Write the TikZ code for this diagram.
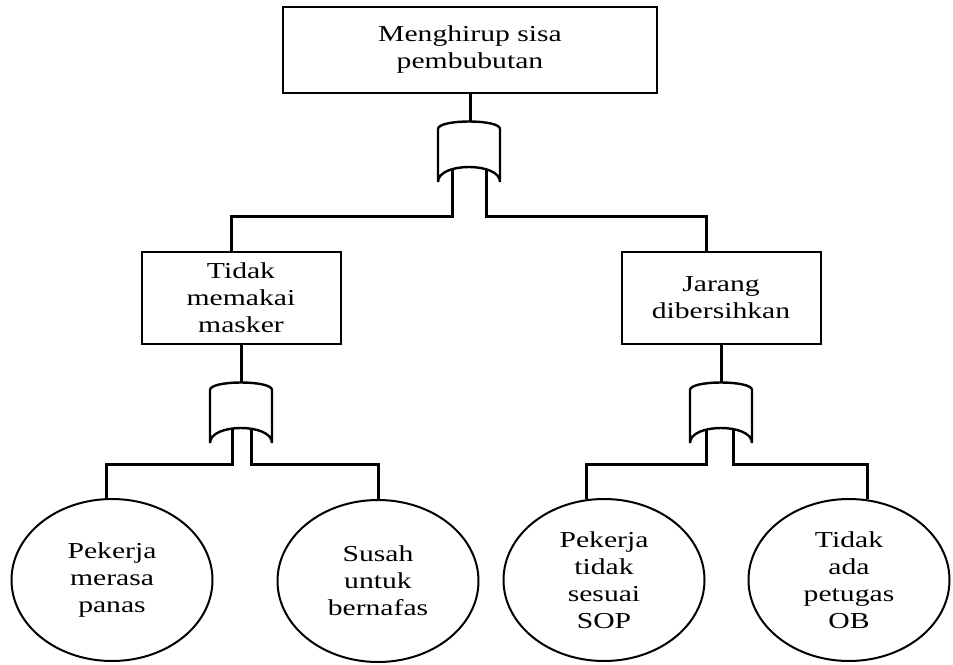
\documentclass[tikz,border=0pt]{standalone}
\usepackage{fontspec}
\setmainfont{Liberation Serif}[FakeStretch=1.3]
\usetikzlibrary{shapes.geometric}

\newcommand{\gatebody}[1]{%
  \begin{scope}[shift={(#1)}]
    \filldraw[gate] (-31,7) .. controls (-31,-3) and (31,-3) .. (31,7) -- (31,60)
      .. controls (31,40) and (-31,40) .. (-31,60) -- cycle;
  \end{scope}}

\begin{document}
\begin{tikzpicture}[x=0.5pt,y=-0.5pt,
    box/.style={draw,line width=1pt,minimum width=99.5pt,minimum height=46pt,
      align=center,inner sep=0pt,font=\fontsize{11.4}{13.5}\selectfont},
    leaf/.style={ellipse,draw,line width=1pt,minimum width=100.5pt,minimum height=81pt,
      align=center,inner sep=0pt,font=\fontsize{11.4}{13.5}\selectfont},
    link/.style={line width=1.5pt},
    gate/.style={fill=white,line width=1.2pt}]
    \useasboundingbox (0,0) rectangle (953,664);
    \node[box,minimum width=187pt,minimum height=43pt] (top) at (470,50) {Menghirup sisa\\pembubutan};
    \node[box] (masker) at (241,298) {Tidak\\memakai\\masker};
    \node[box] (bersih) at (721,298) {Jarang\\dibersihkan};
    \node[leaf] (panas) at (112,580) {Pekerja\\merasa\\panas};
    \node[leaf] (nafas) at (378,581) {Susah\\untuk\\bernafas};
    \node[leaf] (sop) at (604,580) {Pekerja\\tidak\\sesuai\\SOP};
    \node[leaf] (ob) at (849,580) {Tidak\\ada\\petugas\\OB};
    \coordinate (g1) at (469,122);
    \coordinate (g1a) at (452,167);
    \coordinate (g1b) at (486,167);
    \coordinate (bus1) at (0,216);
    \coordinate (g2) at (241,383);
    \coordinate (g2a) at (232,428);
    \coordinate (g2b) at (251,428);
    \coordinate (g3) at (721,383);
    \coordinate (g3a) at (706,428);
    \coordinate (g3b) at (733,428);
    \coordinate (bus2) at (0,464);
    \draw[link] (top.south) -- (top.south |- g1);
    \draw[link] (g1a) -- (g1a |- bus1) -| (masker.102);
    \draw[link] (g1b) -- (g1b |- bus1) -| (bersih.107);
    \draw[link] (masker.south) -- (masker.south |- g2);
    \draw[link] (g2a) -- (g2a |- bus2) -| (panas.94);
    \draw[link] (g2b) -- (g2b |- bus2) -| (nafas.north);
    \draw[link] (bersih.south) -- (bersih.south |- g3);
    \draw[link] (g3a) -- (g3a |- bus2) -| (sop.102);
    \draw[link] (g3b) -- (g3b |- bus2) -| (ob.77);
    \gatebody{g1}
    \gatebody{g2}
    \gatebody{g3}
\end{tikzpicture}
\end{document}
